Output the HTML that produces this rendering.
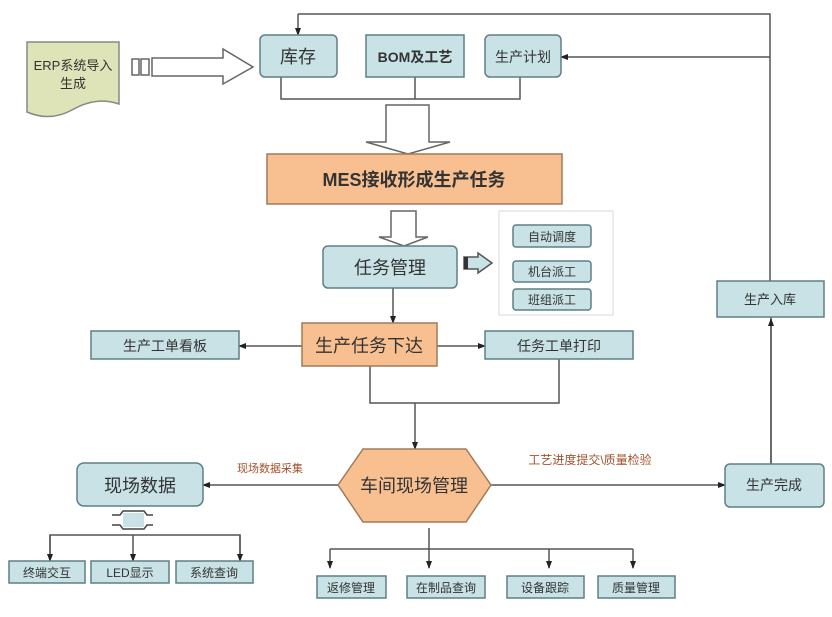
<!DOCTYPE html>
<html><head><meta charset="utf-8"><style>
html,body{margin:0;padding:0;background:#fff}
svg{display:block}
text{font-family:"Liberation Sans","Noto Sans CJK SC",sans-serif;fill:#333}
</style></head><body>
<svg width="832" height="617" viewBox="0 0 832 617" xmlns="http://www.w3.org/2000/svg">
<defs>
<marker id="a" markerWidth="8" markerHeight="8" refX="7" refY="4" orient="auto" markerUnits="userSpaceOnUse"><path d="M0,1 L8,4 L0,7 Z" fill="#222"/></marker>
</defs>
<g stroke="#555" stroke-width="1.5" fill="none">
<!-- top feedback loop -->
<polyline points="771,464 771,317"/>
<path d="M771,464 L771,319" marker-end="url(#a)"/>
<polyline points="770,281 770,14 298,14"/>
<path d="M298,14 L298,35" marker-end="url(#a)"/>
<path d="M770,57 L561,57" marker-end="url(#a)"/>
<!-- bracket below top boxes -->
<polyline points="281,77 281,99 520,99 520,77"/>
<line x1="415" y1="77" x2="415" y2="99"/>
<!-- task mgmt to release -->
<path d="M393,288 L393,323" marker-end="url(#a)"/>
<path d="M302,346 L239,346" marker-end="url(#a)"/>
<path d="M437,346 L485,346" marker-end="url(#a)"/>
<polyline points="370,366 370,403 559,403 559,359"/>
<path d="M415,403 L415,449" marker-end="url(#a)"/>
<path d="M338,485 L203,485" marker-end="url(#a)"/>
<path d="M491,485 L725,485" marker-end="url(#a)"/>
<!-- left children -->
<polyline points="50,555 50,535 240,535 240,555"/>
<path d="M50,535 L50,561" marker-end="url(#a)"/>
<path d="M133,535 L133,561" marker-end="url(#a)"/>
<path d="M240,535 L240,561" marker-end="url(#a)"/>
<!-- bottom children -->
<line x1="429" y1="528" x2="429" y2="549"/>
<line x1="330" y1="549" x2="633" y2="549"/>
<path d="M330,549 L330,568" marker-end="url(#a)"/>
<path d="M429,549 L429,568" marker-end="url(#a)"/>
<path d="M549,549 L549,568" marker-end="url(#a)"/>
<path d="M633,549 L633,568" marker-end="url(#a)"/>
</g>
<!-- ERP document -->
<path d="M27,42 L119,42 L119,104 Q96,96 72,110 Q50,122 27,112 Z" fill="#dfe4b8" stroke="#888" stroke-width="1.5"/>
<text x="73" y="70" font-size="13" text-anchor="middle">ERP系统导入</text>
<text x="73" y="88" font-size="13" text-anchor="middle">生成</text>
<!-- big right arrow -->
<g fill="#fff" stroke="#666" stroke-width="1.5">
<rect x="132" y="59" width="7" height="16"/><rect x="141" y="59" width="8" height="16"/>
<path d="M152,58 L223,58 L223,49 L253,67 L223,84 L223,76 L152,76 Z"/>
<path d="M386,105 L429,105 L429,142 L450,142 L408,154 L366,142 L386,142 Z"/>
<path d="M391,211 L416,211 L416,237 L428,237 L404,246 L379,237 L391,237 Z"/>
</g>
<path d="M464,257 L478,257 L478,253 L492,263 L478,273 L478,269 L464,269 Z" fill="#c8e2e6" stroke="#555" stroke-width="1.5"/>
<rect x="464" y="257" width="4" height="12" fill="#333"/>
<!-- blue boxes -->
<g fill="#c8e2e6" stroke="#5f7f85" stroke-width="1.5">
<rect x="260" y="35" width="77" height="42" rx="5"/>
<rect x="366" y="35" width="98" height="42"/>
<rect x="485" y="35" width="76" height="42" rx="5"/>
<rect x="323" y="246" width="134" height="42" rx="5"/>
<rect x="91" y="331" width="148" height="28"/>
<rect x="485" y="331" width="148" height="28"/>
<rect x="717" y="281" width="107" height="36"/>
<rect x="725" y="464" width="99" height="43" rx="5"/>
<rect x="77" y="463" width="126" height="43" rx="7"/>
<rect x="9" y="561" width="76" height="22"/>
<rect x="91" y="561" width="78" height="22"/>
<rect x="176" y="561" width="77" height="22"/>
<rect x="317" y="576" width="69" height="22"/>
<rect x="407" y="576" width="78" height="22"/>
<rect x="507" y="576" width="77" height="22"/>
<rect x="598" y="576" width="77" height="22"/>
</g>
<rect x="499" y="211" width="114" height="104" fill="#fff" stroke="#e6e6e6" stroke-width="1.5"/>
<g fill="#c8e2e6" stroke="#5f7f85" stroke-width="1.5">
<rect x="513" y="225" width="78" height="22" rx="3"/>
<rect x="513" y="261" width="78" height="21" rx="3"/>
<rect x="513" y="289" width="78" height="21" rx="3"/>
</g>
<!-- double arrow -->
<path d="M112,515 L120,515 L123,511 L144,511 L147,515 L153,515 M112,525 L120,525 L123,529 L144,529 L147,525 L153,525" stroke="#444" stroke-width="1.5" fill="none"/>
<rect x="123" y="513" width="21" height="14" fill="#c8e2e6"/>
<!-- orange -->
<g fill="#f8c090" stroke="#a07a5a" stroke-width="1.5">
<rect x="267" y="154" width="295" height="50"/>
<rect x="302" y="323" width="135" height="43"/>
<polygon points="338,485 363,449 466,449 491,485 466,522 363,522"/>
</g>
<!-- texts -->
<g text-anchor="middle">
<text x="298" y="63" font-size="18">库存</text>
<text x="415" y="62" font-size="14" font-weight="bold">BOM及工艺</text>
<text x="523" y="62" font-size="14">生产计划</text>
<text x="414" y="186" font-size="18" font-weight="bold" fill="#222">MES接收形成生产任务</text>
<text x="390" y="274" font-size="18">任务管理</text>
<text x="552" y="241" font-size="12">自动调度</text>
<text x="552" y="276" font-size="12">机台派工</text>
<text x="552" y="304" font-size="12">班组派工</text>
<text x="369" y="352" font-size="18">生产任务下达</text>
<text x="165" y="351" font-size="14">生产工单看板</text>
<text x="559" y="351" font-size="14">任务工单打印</text>
<text x="770" y="304" font-size="13">生产入库</text>
<text x="774" y="490" font-size="14">生产完成</text>
<text x="414" y="492" font-size="18" fill="#222">车间现场管理</text>
<text x="140" y="492" font-size="18">现场数据</text>
<text x="47" y="577" font-size="12">终端交互</text>
<text x="130" y="577" font-size="12">LED显示</text>
<text x="214" y="577" font-size="12">系统查询</text>
<text x="351" y="592" font-size="12">返修管理</text>
<text x="446" y="592" font-size="12">在制品查询</text>
<text x="545" y="592" font-size="12">设备跟踪</text>
<text x="636" y="592" font-size="12">质量管理</text>
<text x="270" y="472" font-size="11" fill="#a0522d" style="fill:#a0522d">现场数据采集</text>
<text x="590" y="464" font-size="12" style="fill:#a0522d">工艺进度提交\质量检验</text>
</g>
</svg>
</body></html>
